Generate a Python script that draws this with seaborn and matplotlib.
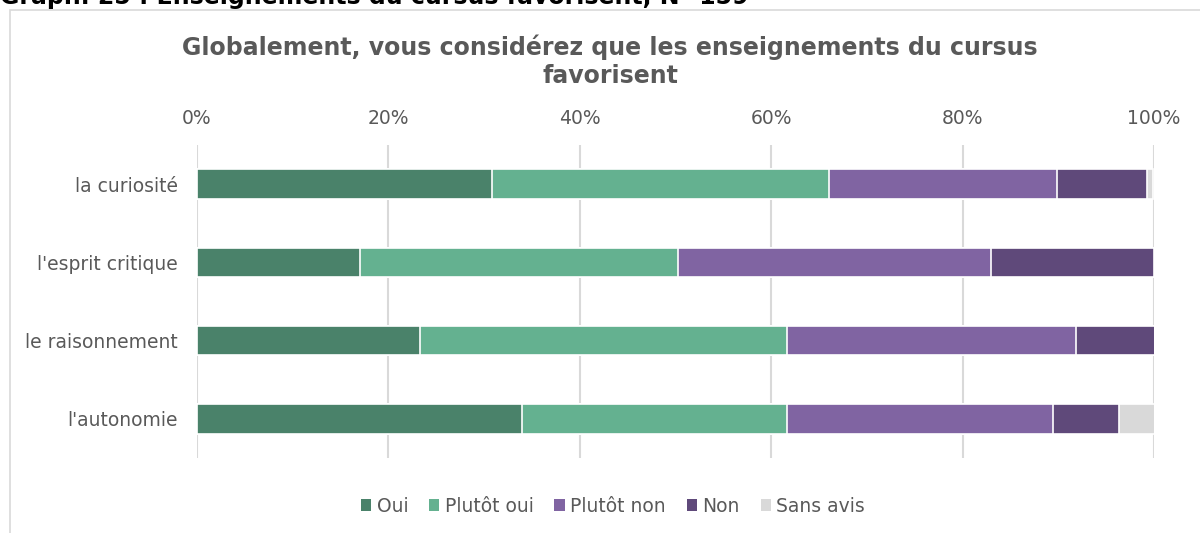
import pandas as pd
import matplotlib.pyplot as plt
import seaborn as sns
from matplotlib.patches import Patch, Rectangle
import matplotlib.ticker as ticker

# === DONNÉES (pourcentages, N=159) ===
categories = ["la curiosité", "l'esprit critique", "le raisonnement", "l'autonomie"]
responses = ["Oui", "Plutôt oui", "Plutôt non", "Non", "Sans avis"]
oui = [30.8, 17.0, 23.3, 34.0]
plutot_oui = [35.2, 33.3, 38.4, 27.7]
plutot_non = [23.9, 32.7, 30.2, 27.7]
non = [9.4, 17.0, 8.2, 6.9]
sans_avis = [0.6, 0.0, 0.0, 3.8]
colors = ["#4a826a", "#64b190", "#8064a2", "#5f497a", "#d9d9d9"]

df = pd.DataFrame({
    "categorie": categories,
    "Oui": oui,
    "Plutôt oui": plutot_oui,
    "Plutôt non": plutot_non,
    "Non": non,
    "Sans avis": sans_avis,
})
cum = df[responses].cumsum(axis=1)
cum["categorie"] = df["categorie"]

sns.set_style("white")
plt.rcParams['font.family'] = ['DejaVu Sans']

fig = plt.figure(figsize=(12, 5.33), dpi=100)
ax = fig.add_axes([197 / 1200, 1 - 458 / 533, 957 / 1200, 313 / 533])

# barres empilées : on dessine les cumuls du plus grand au plus petit
for resp, col in reversed(list(zip(responses, colors))):
    sns.barplot(data=cum, x=resp, y="categorie", order=categories, color=col,
                saturation=1, width=0.375, edgecolor="white", linewidth=1.2,
                ax=ax, orient="h", zorder=3)

ax.set_xlim(0, 100)
ax.set_ylim(3.5, -0.5)
ax.xaxis.tick_top()
ax.xaxis.set_major_locator(ticker.MultipleLocator(20))
ax.xaxis.set_major_formatter(ticker.FuncFormatter(lambda v, p: f"{v:.0f}%"))
ax.grid(axis="x", color="#d9d9d9", linewidth=1.5, zorder=0)
ax.set_xlabel("")
ax.set_ylabel("")
for s in ax.spines.values():
    s.set_visible(False)
ax.tick_params(axis="both", length=0, labelsize=13.5, labelcolor="#595959")
ax.tick_params(axis="y", pad=14)
ax.tick_params(axis="x", pad=12)

# cadre du graphique
fig.add_artist(Rectangle((10 / 1200, -0.1), 1.2, 1.1 - 10 / 533,
                         transform=fig.transFigure, fill=False,
                         edgecolor="#d9d9d9", linewidth=1.2))

fig.text(0.0, 1.005, "Graph. 25 : Enseignements du cursus favorisent, N=159",
         fontsize=17, fontweight="bold", color="black", ha="left", va="center")
fig.text(610 / 1200, 1 - 61 / 533,
         "Globalement, vous considérez que les enseignements du cursus\nfavorisent",
         fontsize=17, fontweight="bold", color="#595959", ha="center", va="center",
         linespacing=1.2)

handles = [Patch(facecolor=c, edgecolor="none", label=r) for r, c in zip(responses, colors)]
fig.legend(handles=handles, loc="center", bbox_to_anchor=(613 / 1200, 1 - 506 / 533),
           ncol=5, frameon=False, fontsize=13.5, labelcolor="#595959",
           handlelength=0.55, handleheight=0.55, handletextpad=0.3, columnspacing=1.1)

fig.savefig("out.png", dpi=100)
